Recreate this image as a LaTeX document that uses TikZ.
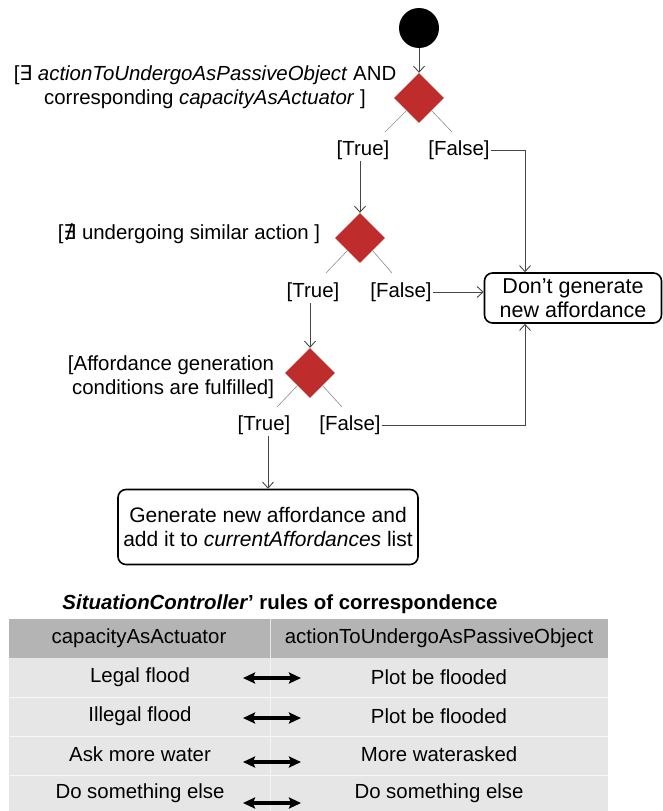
\documentclass[tikz,border=0pt]{standalone}
\usepackage{fontspec}
\setmainfont{Liberation Sans}
\newfontfamily\symfont{DejaVu Sans}
\usetikzlibrary{arrows.meta,shapes.geometric,positioning,calc}
\definecolor{decred}{RGB}{190,44,44}
\definecolor{flowgray}{RGB}{70,70,70}
\definecolor{headgray}{RGB}{180,180,180}
\definecolor{rowgray}{RGB}{230,230,230}

\begin{document}
\begin{tikzpicture}[x=1pt,y=-1pt,
  every node/.style={font=\fontsize{20.4}{23.5}\selectfont,inner sep=1pt},
  decision/.style={diamond,fill=decred,minimum width=50pt,minimum height=50pt,inner sep=0pt},
  activity/.style={draw,line width=1.6pt,rounded corners=8pt,align=center,inner sep=0pt},
  flow/.style={flowgray,line width=0.9pt,-{Straight Barb[length=6pt,width=11pt]}},
  guardline/.style={black!45,line width=0.6pt},
  pairarrow/.style={line width=3.6pt,{Stealth[length=12pt,width=11pt,inset=2pt]}-{Stealth[length=12pt,width=11pt,inset=2pt]}}]
\useasboundingbox (0,0) rectangle (662,811);
% activity flow
\node[circle,fill=black,minimum size=40pt,inner sep=0pt] (start) at (419,28) {};
\node[decision] (d1) at (419,98) {};
\node[align=center] (g1) at (205,87) {[{\symfont ∃} \textit{actionToUndergoAsPassiveObject} AND\\corresponding \textit{capacityAsActuator} ]};
\node (t1) at (363,150) {[True]};
\node (f1) at (459,150) {[False]};
\node[decision] (d2) at (360,238) {};
\node (g2) at (189,234) {[{\symfont ∄} undergoing similar action ]};
\node (t2) at (313,292) {[True]};
\node (f2) at (401,292) {[False]};
\node[activity,minimum width=177pt,minimum height=50pt,font=\fontsize{21.5}{23.5}\selectfont] (nogen) at (573,298) {Don’t generate\\new affordance};
\node[decision] (d3) at (310,373) {};
\node[align=right] (g3) at (171,377) {[Affordance generation\\conditions are fulfilled]};
\node (t3) at (264,425) {[True]};
\node (f3) at (350,425) {[False]};
\node[activity,minimum width=300pt,minimum height=75pt,font=\fontsize{21}{24}\selectfont] (gen) at (268,527) {Generate new affordance and\\add it to \textit{currentAffordances} list};

\draw[flow] (start) -- (d1);
\draw[guardline] (d1.south west) -- ($(t1)+(22,-18)$);
\draw[guardline] (d1.south east) -- ($(f1)+(-7,-18)$);
\draw[flow] (t1.south -| d2.north) -- (d2.north);
\draw[flow] (f1.east) -| ($(nogen.north)+(-48,0)$);
\draw[guardline] (d2.south west) -- ($(t2)+(13,-19)$);
\draw[guardline] (d2.south east) -- ($(f2)+(-9,-19)$);
\draw[flow] (f2.east) -- (f2.east -| nogen.west);
\draw[flow] (t2.south -| d3.north) -- (d3.north);
\draw[guardline] (d3.south west) -- ($(t3)+(13,-18)$);
\draw[guardline] (d3.south east) -- ($(f3)+(-8,-18)$);
\draw[flow] (f3.east) -| ($(nogen.south)+(-48,0)$);
\draw[flow] (t3.south -| gen.north) -- (gen.north);

% rules of correspondence
\node (title) at (280,604) {\textbf{\textit{SituationController}’ rules of correspondence}};
\fill[headgray] (9,619) rectangle (608,658);
\fill[rowgray] (9,658) rectangle (608,811);
\foreach \y in {697,736,775} \draw[white!70!rowgray,line width=1pt] (9,\y) -- (608,\y);
\draw[white!70!headgray,line width=1pt] (270,619) -- (270,658);
\draw[white!50!rowgray,line width=0.8pt] (270,658) -- (270,811);
\node (hcap) at (139,638) {capacityAsActuator};
\node (hact) at (439,638) {actionToUndergoAsPassiveObject};
\foreach \i/\cap/\act/\ty/\ay in {1/Legal flood/Plot be flooded/677/678,
    2/Illegal flood/Plot be flooded/716/718,
    3/Ask more water/More waterasked/754/762,
    4/Do something else/Do something else/793/803}{
  \node (cap\i) at (140,\ty) {\cap};
  \node (act\i) at (439,\ty) {\act};
  \coordinate (la\i) at (243,\ay);
  \coordinate (ra\i) at (301,\ay);
  \draw[pairarrow] (la\i) -- (ra\i);
}
\end{tikzpicture}
\end{document}
